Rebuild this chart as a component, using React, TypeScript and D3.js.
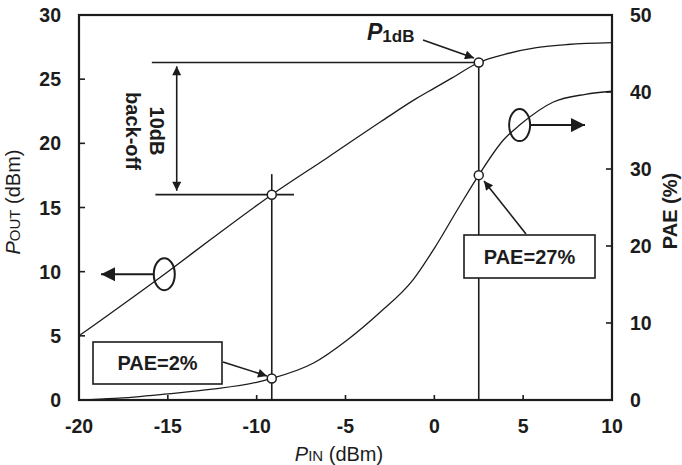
import React from "react";
import { scaleLinear, line, curveMonotoneX } from "d3";

// P_OUT curve (left axis, dBm) vs P_IN (dBm)
const poutPin = [-20, -15, -12.5, -9.15, -6, -3, -1, 0, 1, 2.5, 4, 5.75, 7.5, 10];
const poutVals = [5.0, 10.0, 12.6, 16.0, 18.9, 21.7, 23.5, 24.3, 25.1, 26.3, 26.95, 27.45, 27.7, 27.85];

// PAE curve (right axis, %) vs P_IN (dBm)
const paePin = [-20, -18, -15, -12.5, -10, -9.15, -6.8, -4.9, -3.1, -1.2, 0, 1.4, 2.5, 3.9, 4.8, 6.7, 8.5, 10];
const paeVals = [0, 0.2, 0.8, 1.4, 2.3, 2.8, 4.8, 7.8, 11.3, 15.6, 19.7, 25.1, 29.2, 33.8, 35.7, 38.7, 39.7, 40.1];

const xTicks = [-20, -15, -10, -5, 0, 5, 10];
const leftTicks = [0, 5, 10, 15, 20, 25, 30];
const rightTicks = [0, 10, 20, 30, 40, 50];

// operating points
const backoffPin = -9.15;
const p1dbPin = 2.5;
const backoffPout = 16.0;
const p1dbPout = 26.3;
const paeBackoff = 2.8;
const paeP1dB = 29.2;

const FONT = "'Liberation Sans', Arial, Helvetica, sans-serif";
const INK = "#1c1c1c";

export default function App() {
  const x = scaleLinear().domain([-20, 10]).range([79, 612]);
  const yL = scaleLinear().domain([0, 30]).range([400, 15]);
  const yR = scaleLinear().domain([0, 50]).range([400, 15]);

  const poutLine = line<number>()
    .x((_, i) => x(poutPin[i]))
    .y((d) => yL(d))
    .curve(curveMonotoneX)(poutVals);
  const paeLine = line<number>()
    .x((_, i) => x(paePin[i]))
    .y((d) => yR(d))
    .curve(curveMonotoneX)(paeVals);

  const lEll = { cx: x(-15.2), cy: yL(9.8) };
  const rEll = { cx: x(4.8), cy: yR(35.7) };

  return (
    <svg width={682} height={465} style={{ position: "absolute", left: 0, top: 0 }} fontFamily={FONT}>
      <defs>
        <marker id="big" viewBox="0 0 10 10" refX="10" refY="5" markerUnits="userSpaceOnUse" markerWidth="16" markerHeight="14" orient="auto">
          <path d="M0,0 L10,5 L0,10 Z" fill={INK} />
        </marker>
        <marker id="small" viewBox="0 0 10 10" refX="10" refY="5" markerUnits="userSpaceOnUse" markerWidth="12" markerHeight="9" orient="auto-start-reverse">
          <path d="M0,0 L10,5 L0,10 Z" fill={INK} />
        </marker>
      </defs>
      <rect width={682} height={465} fill="#fff" />

      {/* curves */}
      <path d={poutLine ?? ""} fill="none" stroke={INK} strokeWidth={1.3} />
      <path d={paeLine ?? ""} fill="none" stroke={INK} strokeWidth={1.3} />

      {/* reference lines */}
      <line x1={x(-15.9)} x2={x(p1dbPin)} y1={yL(p1dbPout)} y2={yL(p1dbPout)} stroke={INK} strokeWidth={1.6} />
      <line x1={x(-15.7)} x2={x(-7.9)} y1={yL(backoffPout)} y2={yL(backoffPout)} stroke={INK} strokeWidth={1.6} />
      <line x1={x(backoffPin)} x2={x(backoffPin)} y1={yL(17.6)} y2={400} stroke={INK} strokeWidth={1.6} />
      <line x1={x(p1dbPin)} x2={x(p1dbPin)} y1={yL(p1dbPout)} y2={400} stroke={INK} strokeWidth={1.6} />

      {/* 10 dB back-off double arrow */}
      <line x1={x(-14.5)} x2={x(-14.5)} y1={yL(26.0)} y2={yL(16.3)} stroke={INK} strokeWidth={1.6}
        markerStart="url(#small)" markerEnd="url(#small)" />
      <text transform={`translate(${x(-14.5) - 33},131) rotate(90)`} textAnchor="middle" fontSize={20} fontWeight="bold" fill={INK}>
        <tspan x={0} dy={-6}>10dB</tspan>
        <tspan x={0} dy={24}>back-off</tspan>
      </text>

      {/* axis ellipses with arrows */}
      <ellipse cx={lEll.cx} cy={lEll.cy} rx={10.5} ry={16} fill="none" stroke={INK} strokeWidth={2} />
      <line x1={lEll.cx - 10.5} x2={101} y1={lEll.cy} y2={lEll.cy} stroke={INK} strokeWidth={2} markerEnd="url(#big)" />
      <ellipse cx={rEll.cx} cy={rEll.cy} rx={10.5} ry={16} fill="none" stroke={INK} strokeWidth={2} />
      <line x1={rEll.cx + 10.5} x2={585} y1={rEll.cy} y2={rEll.cy} stroke={INK} strokeWidth={2} markerEnd="url(#big)" />

      {/* P1dB label */}
      <text x={367} y={40} fill={INK} fontWeight="bold">
        <tspan fontStyle="italic" fontSize={23}>P</tspan>
        <tspan fontSize={17} dy={2}>1dB</tspan>
      </text>
      <line x1={423} x2={474} y1={40} y2={58} stroke={INK} strokeWidth={1.6} markerEnd="url(#small)" />

      {/* PAE=27% box */}
      <line x1={526} x2={484} y1={234} y2={181} stroke={INK} strokeWidth={1.6} markerEnd="url(#small)" />
      <rect x={464} y={235} width={131} height={43} fill="#fff" stroke={INK} strokeWidth={1.6} />
      <text x={529.5} y={264} textAnchor="middle" fontSize={20} fontWeight="bold" fill={INK}>PAE=27%</text>

      {/* PAE=2% box */}
      <rect x={93} y={342} width={129} height={42} fill="#fff" stroke={INK} strokeWidth={1.6} />
      <text x={157.5} y={370} textAnchor="middle" fontSize={20} fontWeight="bold" fill={INK}>PAE=2%</text>
      <line x1={223} x2={267} y1={362} y2={376} stroke={INK} strokeWidth={1.6} markerEnd="url(#small)" />

      {/* markers */}
      {[
        [x(backoffPin), yL(backoffPout)],
        [x(p1dbPin), yL(p1dbPout)],
        [x(backoffPin), yR(paeBackoff)],
        [x(p1dbPin), yR(paeP1dB)],
      ].map(([cx, cy], i) => (
        <circle key={i} cx={cx} cy={cy} r={4.5} fill="#fff" stroke={INK} strokeWidth={1.5} />
      ))}

      {/* frame */}
      <rect x={79} y={15} width={533} height={385} fill="none" stroke={INK} strokeWidth={2.2} />

      {/* ticks */}
      {xTicks.slice(1, -1).map((t) => (
        <line key={`xt${t}`} x1={x(t)} x2={x(t)} y1={400} y2={395} stroke={INK} strokeWidth={1.6} />
      ))}
      {leftTicks.slice(1, -1).map((t) => (
        <line key={`lt${t}`} x1={79} x2={85} y1={yL(t)} y2={yL(t)} stroke={INK} strokeWidth={1.6} />
      ))}
      {rightTicks.slice(1, -1).map((t) => (
        <line key={`rt${t}`} x1={606} x2={612} y1={yR(t)} y2={yR(t)} stroke={INK} strokeWidth={1.6} />
      ))}

      {/* tick labels */}
      <g fontSize={19.5} fontWeight="bold" fill={INK}>
        {xTicks.map((t) => (
          <text key={`xl${t}`} x={x(t)} y={433} textAnchor="middle">{t}</text>
        ))}
        {leftTicks.map((t) => (
          <text key={`ll${t}`} x={61} y={yL(t)} dy="0.36em" textAnchor="end">{t}</text>
        ))}
        {rightTicks.map((t) => (
          <text key={`rl${t}`} x={630} y={yR(t)} dy="0.36em" textAnchor="start">{t}</text>
        ))}
      </g>

      {/* axis titles */}
      <text x={339} y={461} textAnchor="middle" fontSize={20} fill={INK}>
        <tspan fontStyle="italic">P</tspan>
        <tspan fontSize={15}>IN</tspan>
        <tspan> (dBm)</tspan>
      </text>
      <text transform="translate(20,202) rotate(-90)" textAnchor="middle" fontSize={20} fill={INK}>
        <tspan fontStyle="italic">P</tspan>
        <tspan fontSize={15}>OUT</tspan>
        <tspan> (dBm)</tspan>
      </text>
      <text transform="translate(677,211) rotate(-90)" textAnchor="middle" fontSize={20} fontWeight="bold" fill={INK}>
        PAE (%)
      </text>
    </svg>
  );
}
